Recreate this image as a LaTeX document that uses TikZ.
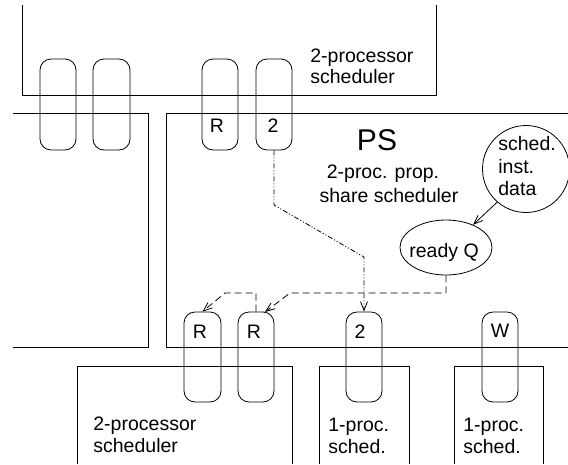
\documentclass[tikz,border=0pt]{standalone}
\usepackage{fontspec}
\setmainfont{Liberation Sans}
\usetikzlibrary{arrows.meta,shapes.geometric}
\begin{document}
\begin{tikzpicture}[x=1pt,y=-1pt,line width=0.8pt,
  slot/.style={draw,rectangle,rounded corners=11pt,minimum width=36pt,minimum height=91pt,inner sep=0pt},
  txt/.style={font=\fontsize{19.5}{22}\selectfont,inner sep=0pt,anchor=base west},
  ctxt/.style={font=\fontsize{19.5}{22}\selectfont,inner sep=0pt,anchor=base},
  tip/.style={-{Straight Barb[length=9pt,width=7pt]}},
  dashline/.style={dash pattern=on 7pt off 4pt},
  ddline/.style={dash pattern=on 5pt off 2pt on 1pt off 2pt on 1pt off 2pt}]
\useasboundingbox (0,0) rectangle (568,464);
% frames
\draw (22,5) -- (22,95) -- (436,95) -- (436,5);
\draw (13,113) -- (148,113) -- (148,347) -- (13,347);
\draw (568,113) -- (166,113) -- (166,347) -- (568,347);
\draw (77,464) -- (77,366) -- (292,366) -- (292,464);
\draw (319,464) -- (319,366) -- (409,366) -- (409,464);
\draw (454,464) -- (454,366) -- (543,366) -- (543,464);
% top slots
\node[slot] (t1) at (58,104.5) {};
\node[slot,minimum width=37pt] (t2) at (111.5,104.5) {};
\node[slot] (t3) at (220,104.5) {};
\node[slot] (t4) at (274,104.5) {};
\node[ctxt] (t3l) at (217,132) {R};
\node[ctxt] (t4l) at (273,132) {2};
% bottom slots
\node[slot,minimum height=90pt,minimum width=37pt] (b1) at (202.5,357) {};
\node[slot,minimum height=90pt] (b2) at (256,357) {};
\node[slot,minimum height=90pt] (b3) at (364,357) {};
\node[slot,minimum height=90pt] (b4) at (500,357) {};
\node[ctxt] (b1l) at (200,338) {R};
\node[ctxt] (b2l) at (254,338) {R};
\node[ctxt] (b3l) at (360,338) {2};
\node[ctxt] (b4l) at (500,337) {W};
% texts
\node[txt] (top1) at (310,62) {2-processor};
\node[txt] (top2) at (310,83) {scheduler};
\node[font=\fontsize{30}{34}\selectfont,inner sep=0pt,anchor=base] (ps) at (377,150) {PS};
\node[ctxt] (ps1) at (383,178) {2-proc. prop.};
\node[ctxt] (ps2) at (389,202) {share scheduler};
\node[txt] (bl1) at (93,430) {2-processor};
\node[txt] (bl2) at (93,452) {scheduler};
\node[txt] (bm1) at (328,431) {1-proc.};
\node[txt] (bm2) at (328,453) {sched.};
\node[txt] (br1) at (463,431) {1-proc.};
\node[txt] (br2) at (463,453) {sched.};
% circle and ellipse
\node[draw,circle,minimum size=87pt,inner sep=0pt] (sid) at (526,169) {};
\node[txt] (sid1) at (498,150) {sched.};
\node[txt] (sid2) at (498,173) {inst.};
\node[txt] (sid3) at (498,195) {data};
\node[draw,ellipse,minimum width=92pt,minimum height=55pt,inner sep=0pt] (rq) at (446,247.5) {};
\node[txt] (rql) at (409,257) {ready Q};
% connectors
\draw[tip] (sid.229) -- (rq.40);
\coordinate (d1) at (274,205);
\coordinate (d2) at (364,257);
\draw[ddline,tip] (t4.south) -- (d1) -- (d2) -- (b3.north);
\coordinate (q1) at (446,293);
\coordinate (q2) at (290,293);
\coordinate (b2tip) at (265,312);
\draw[dashline,tip] (rq.south) -- (q1) -- (q2) -- (b2tip);
\coordinate (r1) at (256,293);
\coordinate (r2) at (225,293);
\draw[dashline,tip] (b2.north) -- (r1) -- (r2) -- (b1.north);
\end{tikzpicture}
\end{document}
